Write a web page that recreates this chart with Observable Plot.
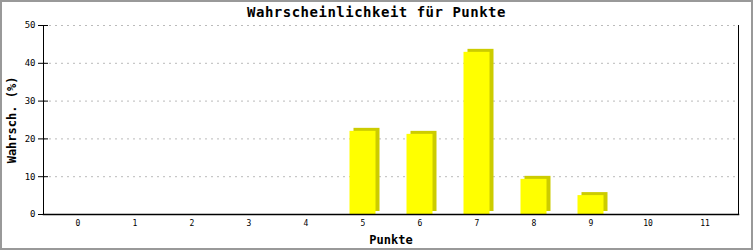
<!DOCTYPE html>
<html><head><meta charset="utf-8">
<script src="https://cdn.jsdelivr.net/npm/d3@7"></script>
<script src="https://cdn.jsdelivr.net/npm/@observablehq/plot@0.6"></script>
<style>
body{margin:0;background:#fff}
#chart{position:relative;width:753px;height:250px;overflow:hidden}
#chart svg{display:block;position:absolute;left:0;top:0}
#frame{position:absolute;left:0;top:0;width:749px;height:246px;border:2px solid #999;pointer-events:none}
#title{position:absolute;left:0;top:4px;width:753px;text-align:center;font:bold 14px "DejaVu Sans Mono",monospace;letter-spacing:0.5px;color:#000}
</style></head><body><div id="chart"><div id="title"></div><div id="frame"></div></div>
<script>
const categories = ["0","1","2","3","4","5","6","7","8","9","10","11"];
const values = [0, 0, 0, 0, 0, 22.0, 21.2, 42.9, 9.3, 5.0, 0, 0];
const yTicks = [0, 10, 20, 30, 40, 50];
const titleText = "Wahrscheinlichkeit für Punkte";
const xLabel = "Punkte";
const yLabel = "Wahrsch. (%)";

const data = categories.map((c, i) => ({punkte: c, wert: values[i]}));
const bars = data.filter(d => d.wert > 0);

const mono = '"DejaVu Sans Mono", monospace';
const chart = Plot.plot({
  width: 753,
  height: 250,
  marginLeft: 43,
  marginRight: 15,
  marginTop: 25,
  marginBottom: 36,
  style: {fontFamily: mono, fontSize: "8px", background: "transparent", overflow: "visible"},
  x: {type: "band", domain: categories, padding: 0, label: null},
  y: {domain: [0, 50], label: null},
  marks: [
    Plot.gridY(yTicks.filter(t => t > 0), {stroke: "#bbb", strokeOpacity: 1, strokeDasharray: "2,4"}),
    Plot.barY(bars, {x: "punkte", y: "wert", fill: "#cccc00", insetLeft: 15.5, insetRight: 15.5, dx: 4, dy: -3}),
    Plot.barY(bars, {x: "punkte", y: "wert", fill: "#ffff00", insetLeft: 15.5, insetRight: 15.5}),
    Plot.axisY(yTicks, {tickSize: 5, tickPadding: 3, fontSize: 9, label: null, stroke: "#000"}),
    Plot.axisY(yTicks, {tickSize: -5, text: null, label: null, stroke: "#000"}),
    Plot.axisX({tickSize: 0, tickPadding: 6, fontSize: 8, label: null}),
    Plot.frame({anchor: "left", stroke: "#000"}),
    Plot.frame({anchor: "right", stroke: "#000"}),
    Plot.frame({anchor: "bottom", stroke: "#000", strokeWidth: 1.5}),
    Plot.text([xLabel], {frameAnchor: "bottom", dy: 26, fontSize: 12, fontWeight: "bold", lineAnchor: "middle"}),
    Plot.text([yLabel], {frameAnchor: "left", dx: -31, rotate: -90, textAnchor: "middle", fontSize: 12, fontWeight: "bold", lineAnchor: "middle"})
  ]
});
document.getElementById("chart").appendChild(chart);
document.getElementById("title").textContent = titleText;
</script></body></html>
